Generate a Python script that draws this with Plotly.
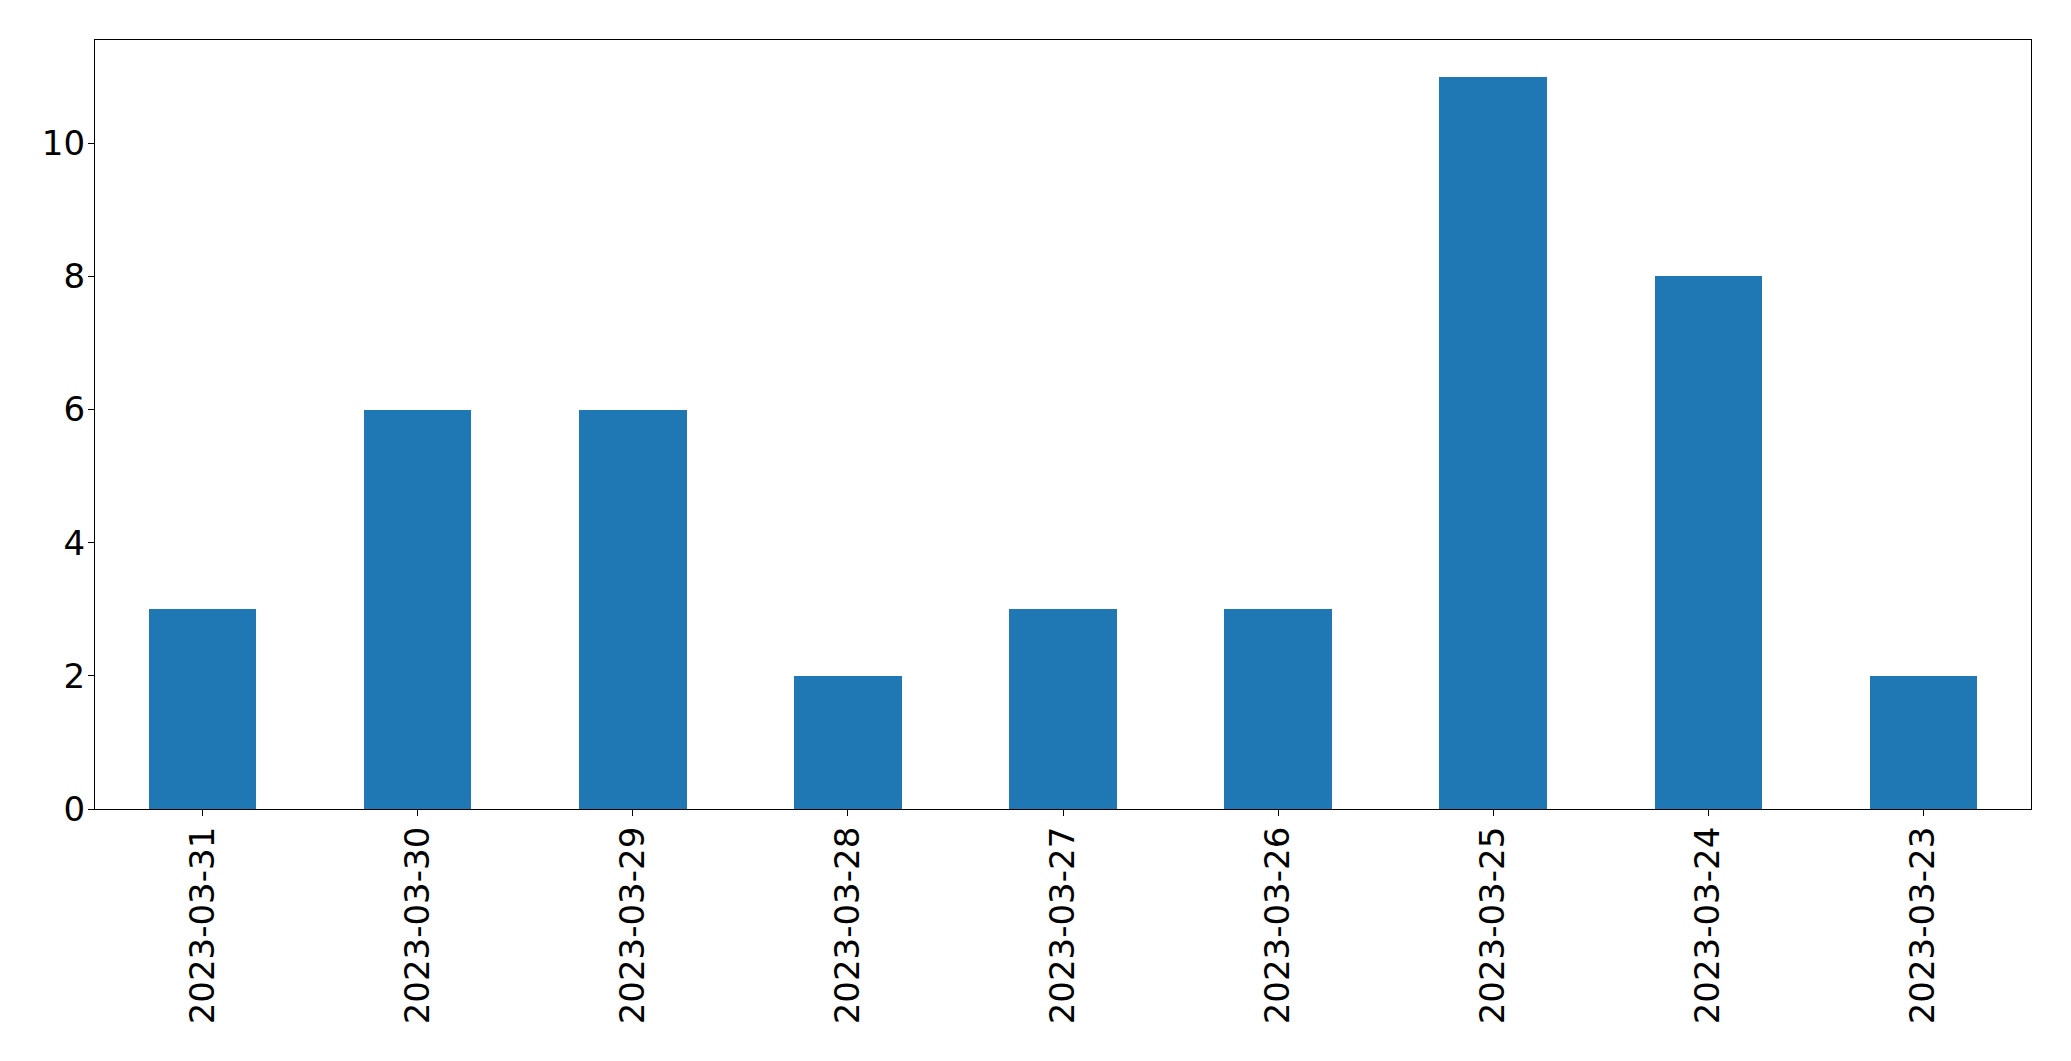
import plotly.graph_objects as go

dates = ["2023-03-31", "2023-03-30", "2023-03-29", "2023-03-28", "2023-03-27",
         "2023-03-26", "2023-03-25", "2023-03-24", "2023-03-23"]
counts = [3, 6, 6, 2, 3, 3, 11, 8, 2]
y_ticks = [0, 2, 4, 6, 8, 10]

fig = go.Figure(go.Bar(x=dates, y=counts, marker_color="#1f77b4",
                       marker_line_width=0, width=0.5))

# page body has an 8px default margin; compensate
W, H = 2055, 1045
L, R, T, B = 86.5, 32, 31.5, 244
fig.update_layout(
    width=W, height=H,
    margin=dict(l=L, r=R, t=T, b=B, pad=0),
    plot_bgcolor="white", paper_bgcolor="white",
    font=dict(family="DejaVu Sans", size=34, color="black"),
    showlegend=False,
    bargap=0,
)
fig.update_xaxes(type="category", range=[-0.5, len(dates) - 0.5],
                 tickangle=-90, ticks="outside", ticklen=6, tickwidth=1.3,
                 tickcolor="black", showline=True, linecolor="black",
                 linewidth=1.3, mirror=True, showgrid=False,
                 ticklabelstandoff=-3, automargin=False)
fig.update_yaxes(range=[0, 11.55], tickvals=y_ticks, ticks="outside",
                 ticklen=6, tickwidth=1.3, tickcolor="black", showline=True,
                 linecolor="black", linewidth=1.3, mirror=True, showgrid=False,
                 zeroline=False, ticklabelstandoff=-4, automargin=False)

fig.write_html("out.html")
